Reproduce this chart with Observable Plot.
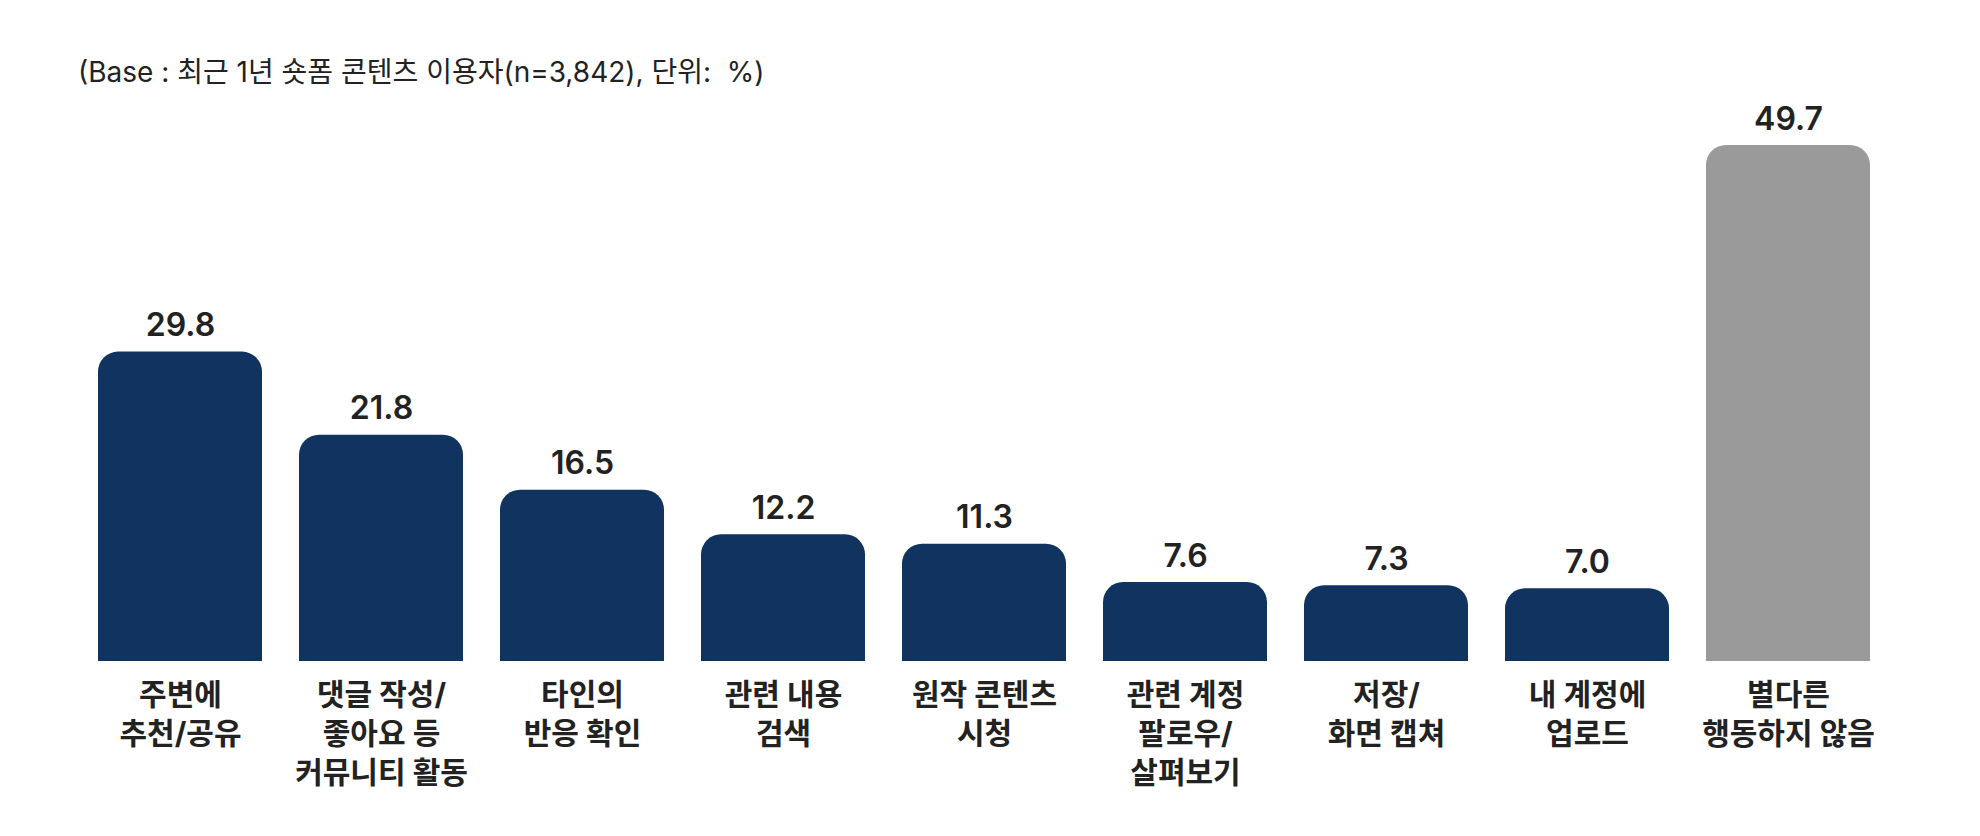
<!DOCTYPE html>
<html><head><meta charset="utf-8">
<script src="https://cdn.jsdelivr.net/npm/d3@7"></script>
<script src="https://cdn.jsdelivr.net/npm/@observablehq/plot@0.6"></script>
<style>
body{margin:0;background:#fff;font-family:Inter,"Noto Sans CJK KR",sans-serif;}
#wrap{position:relative;width:1980px;height:836px;}
#sub{position:absolute;left:78px;top:52px;font-size:28px;color:#222;line-height:40px;white-space:pre;}
#wrap svg{position:absolute;left:0;top:0;}
</style></head><body>
<div id="wrap"><div id="sub"></div></div>
<script>
const categories = [
  "주변에\n추천/공유",
  "댓글 작성/\n좋아요 등\n커뮤니티 활동",
  "타인의\n반응 확인",
  "관련 내용\n검색",
  "원작 콘텐츠\n시청",
  "관련 계정\n팔로우/\n살펴보기",
  "저장/\n화면 캡쳐",
  "내 계정에\n업로드",
  "별다른\n행동하지 않음"
];
const values = [29.8, 21.8, 16.5, 12.2, 11.3, 7.6, 7.3, 7.0, 49.7];
const noneCategory = "별다른\n행동하지 않음";
const subtitle = "(Base : 최근 1년 숏폼 콘텐츠 이용자(n=3,842), 단위:  %)";

const navy = "#11335f";
const gray = "#9a9a9a";
const data = categories.map((c, i) => ({category: c, value: values[i]}));

document.getElementById("sub").textContent = subtitle;

const plot = Plot.plot({
  width: 1980,
  height: 836,
  marginTop: 145,
  marginBottom: 175,
  marginLeft: 95,
  marginRight: 106,
  x: {domain: categories, paddingInner: 0.182, paddingOuter: 0, axis: null},
  y: {domain: [0, d3.max(values)], axis: null},
  style: {fontFamily: 'Inter, "Noto Sans CJK KR", sans-serif', background: "transparent"},
  marks: [
    Plot.barY(data, {filter: d => d.category !== noneCategory, x: "category", y: "value", fill: navy, ry1: 20}),
    Plot.barY(data, {filter: d => d.category === noneCategory, x: "category", y: "value", fill: gray, ry1: 20}),
    Plot.text(data, {x: "category", y: "value", text: d => d.value.toFixed(1), lineAnchor: "bottom", dy: -16, fontSize: 32, fontWeight: 600, fill: "#222"}),
    Plot.text(data, {x: "category", y: () => 0, text: "category", lineAnchor: "top", dy: 16, fontSize: 30, fontWeight: 700, lineHeight: 1.3, fill: "#222"})
  ]
});
document.getElementById("wrap").appendChild(plot);
</script>
</body></html>
